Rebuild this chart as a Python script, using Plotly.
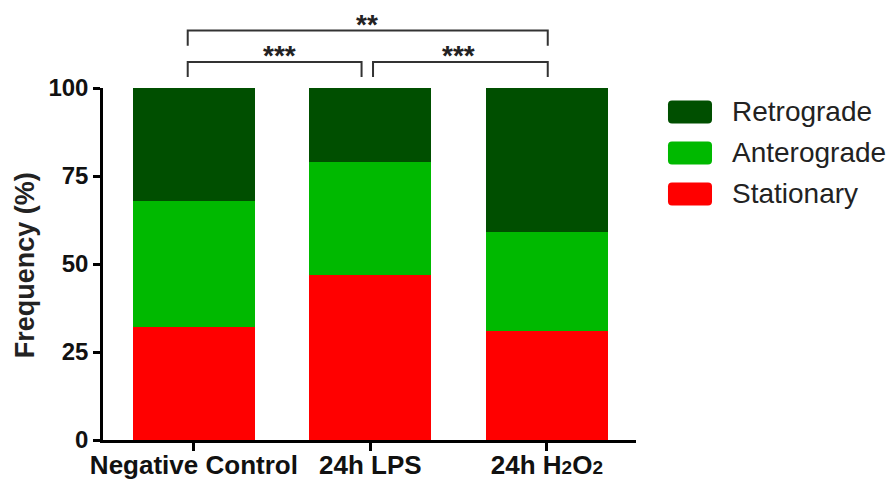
import plotly.graph_objects as go

categories = ["Negative Control", "24h LPS",
              "24h H<span style='font-size:19px'>2</span>O<span style='font-size:19px'>2</span>"]
series_names = ["Stationary", "Anterograde", "Retrograde"]
stationary = [32, 47, 31]
anterograde = [36, 32, 28]
retrograde = [32, 21, 41]
colors = ["#ff0000", "#00b900", "#004f00"]
y_ticks = [0, 25, 50, 75, 100]

# significance brackets: (x start, x end, level, label, label x)
brackets = [
    (-0.035, 0.95, 0, "***", 0.487),
    (1.015, 2.005, 0, "***", 1.50),
    (-0.035, 2.005, 1, "**", 0.98),
]

FONT = "Liberation Sans, Arial, sans-serif"
x_pos = list(range(len(categories)))

fig = go.Figure()
for name, vals, col in zip(series_names, [stationary, anterograde, retrograde], colors):
    fig.add_trace(go.Bar(x=x_pos, y=vals, name=name, marker=dict(color=col, line=dict(width=0)),
                         width=0.69, showlegend=False))

shapes = []
annotations = []
# brackets
for x0, x1, lvl, lab, lx in brackets:
    ytop = 1.074 + lvl * 0.089
    ybot = ytop - 0.043
    shapes.append(dict(type="path", xref="x", yref="paper",
                       path=f"M {x0},{ybot} L {x0},{ytop} L {x1},{ytop} L {x1},{ybot}",
                       line=dict(color="#333333", width=2)))
    annotations.append(dict(x=lx, y=ytop - 0.031, xref="x", yref="paper", text=lab, showarrow=False,
                            yanchor="bottom",
                            font=dict(family=FONT, size=28, color="#222222", weight="bold")))

# manual legend (Retrograde on top)
W, H = 533.0, 352.0
rx, ry = 4 / W, 4 / H
lx0, lx1 = 1.060, 1.1426
for i, (name, col) in enumerate(zip(series_names[::-1], colors[::-1])):
    yc = 0.932 - i * 0.1165
    y0, y1 = yc - 0.0327, yc + 0.0327
    path = (f"M {lx0+rx},{y0} L {lx1-rx},{y0} Q {lx1},{y0} {lx1},{y0+ry} L {lx1},{y1-ry} "
            f"Q {lx1},{y1} {lx1-rx},{y1} L {lx0+rx},{y1} Q {lx0},{y1} {lx0},{y1-ry} "
            f"L {lx0},{y0+ry} Q {lx0},{y0} {lx0+rx},{y0} Z")
    shapes.append(dict(type="path", xref="paper", yref="paper", path=path,
                       fillcolor=col, line=dict(width=0)))
    annotations.append(dict(x=1.176, y=yc, xref="paper", yref="paper", text=name, showarrow=False,
                            xanchor="left", yanchor="middle",
                            font=dict(family=FONT, size=28, color="#222222")))

# y-axis title
annotations.append(dict(x=-0.146, y=0.497, xref="paper", yref="paper", text="Frequency (%)",
                        textangle=-90, showarrow=False, xanchor="center", yanchor="middle",
                        font=dict(family=FONT, size=27, color="#222222", weight="bold")))

fig.update_layout(
    barmode="stack",
    width=891, height=480,
    margin=dict(l=103, r=255, t=88, b=40, autoexpand=False),
    paper_bgcolor="white", plot_bgcolor="white",
    shapes=shapes, annotations=annotations,
    xaxis=dict(range=[-0.515, 2.505], tickvals=x_pos, ticktext=categories,
               showline=True, linecolor="black", linewidth=2.5, ticks="outside", ticklen=8,
               tickwidth=2.5, tickcolor="black", showgrid=False, zeroline=False,
               ticklabelstandoff=-8,
               tickfont=dict(family=FONT, size=26, color="#111111", weight="bold")),
    yaxis=dict(range=[0, 100], tickvals=y_ticks, showline=True, linecolor="black", linewidth=2.5,
               ticks="outside", ticklen=7, tickwidth=2.5, tickcolor="black", showgrid=False,
               zeroline=False, tickfont=dict(family=FONT, size=24, color="#111111", weight="bold")),
)

fig.write_html("out.html")
